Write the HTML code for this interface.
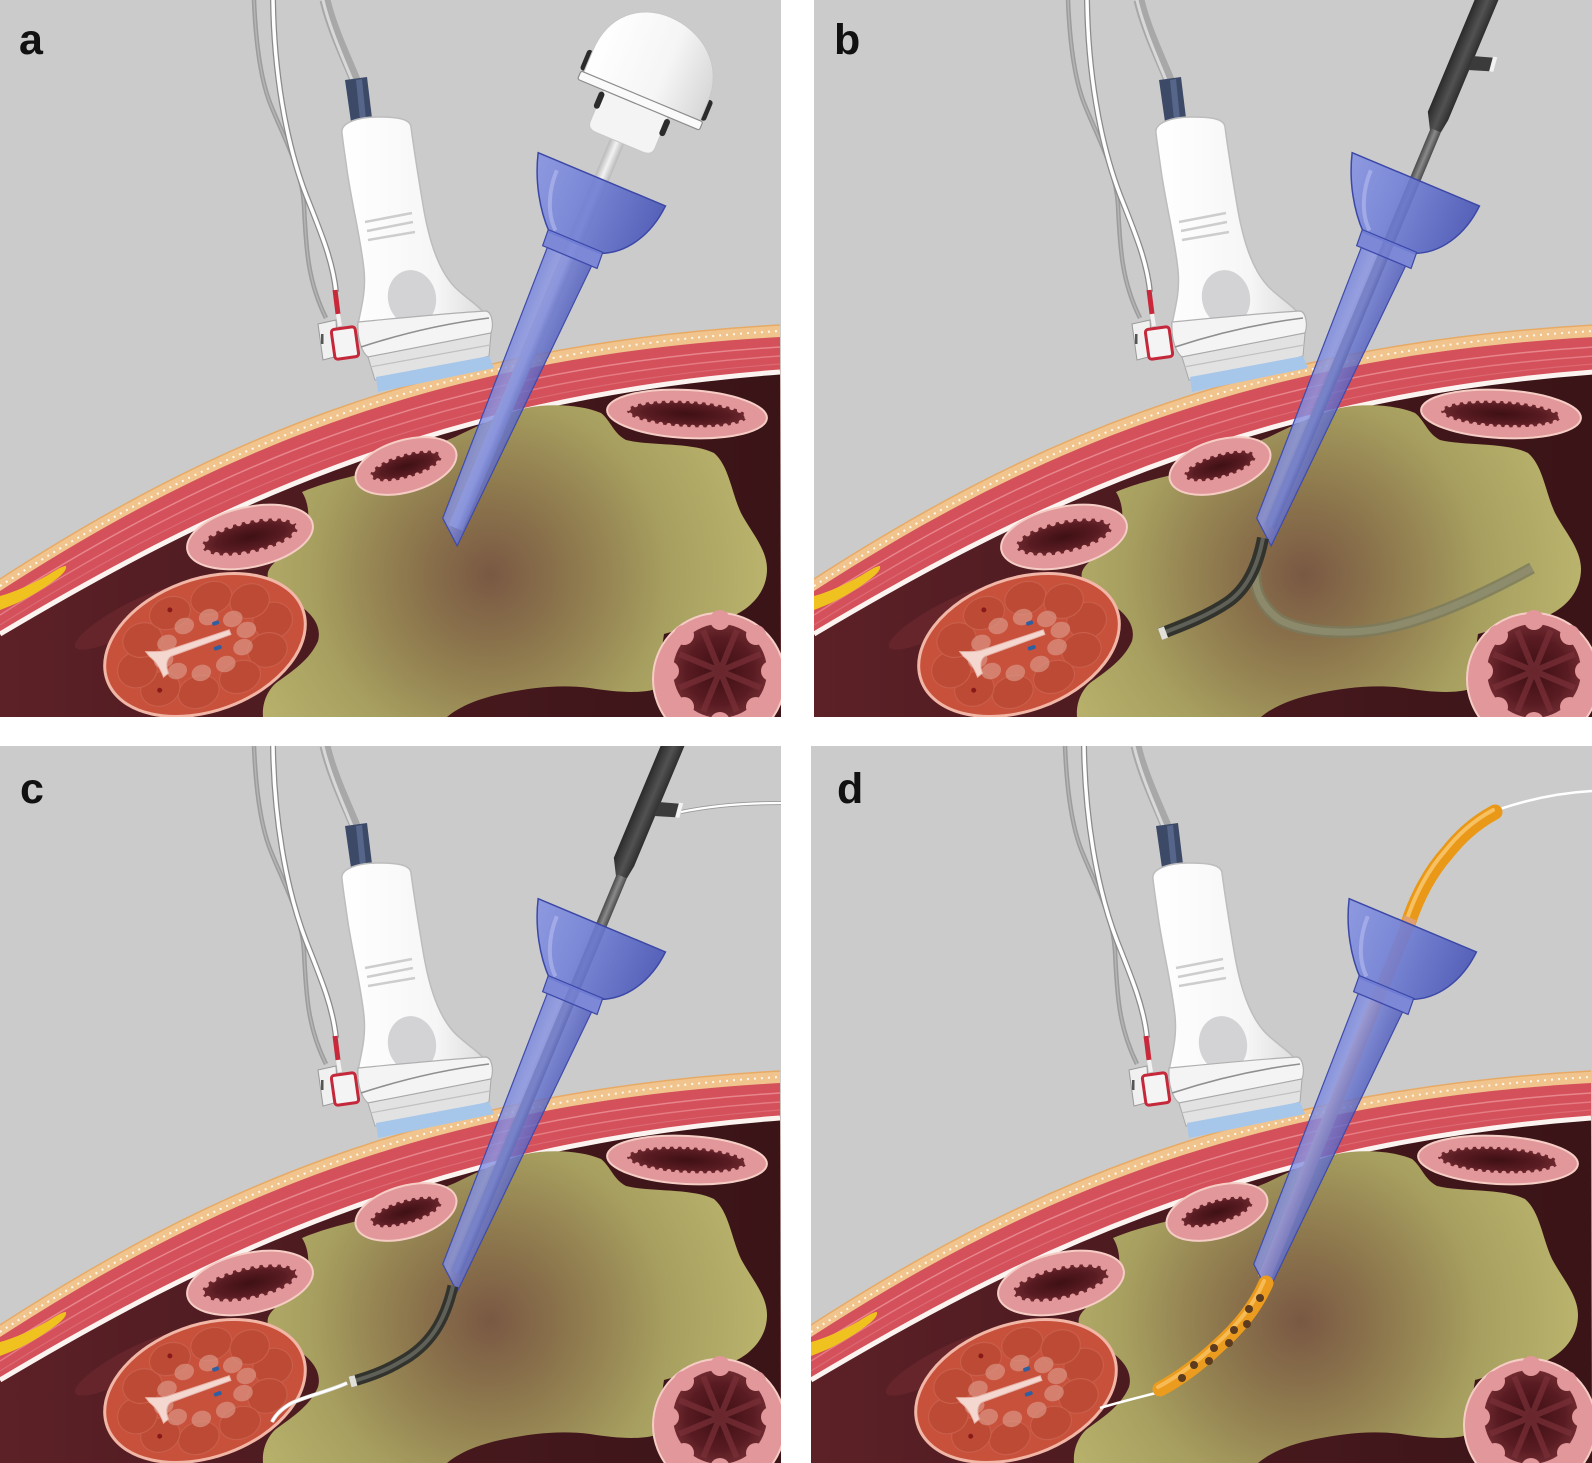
<!DOCTYPE html>
<html><head><meta charset="utf-8">
<style>
html,body{margin:0;padding:0;background:#fff;}
svg{display:block;}
text{font-family:"Liberation Sans",Arial,sans-serif;font-weight:bold;}
</style></head>
<body>
<svg xmlns="http://www.w3.org/2000/svg" xmlns:xlink="http://www.w3.org/1999/xlink" width="1592" height="1463" viewBox="0 0 1592 1463">
<defs>
 <clipPath id="pc"><rect x="0" y="0" width="781" height="717"/></clipPath>
 <linearGradient id="inter" gradientUnits="userSpaceOnUse" x1="0" y1="0" x2="780" y2="0">
  <stop offset="0" stop-color="#5c2127"/><stop offset="0.45" stop-color="#4a1a1f"/><stop offset="1" stop-color="#3a1417"/>
 </linearGradient>
 <radialGradient id="abs" gradientUnits="userSpaceOnUse" cx="490" cy="575" r="275">
  <stop offset="0" stop-color="#7a5843"/><stop offset="0.3" stop-color="#8d774d"/>
  <stop offset="0.65" stop-color="#a79f5f"/><stop offset="1" stop-color="#b9b36d"/>
 </radialGradient>
 <radialGradient id="lum">
  <stop offset="0" stop-color="#3e1014"/><stop offset="0.7" stop-color="#581b21"/><stop offset="1" stop-color="#6e2a30"/>
 </radialGradient>
 <linearGradient id="fun" x1="0" y1="0" x2="1" y2="0">
  <stop offset="0" stop-color="#8592e2"/><stop offset="0.4" stop-color="#7180d8"/><stop offset="1" stop-color="#4653b6"/>
 </linearGradient>
 <linearGradient id="shaft" x1="0" y1="0" x2="1" y2="0">
  <stop offset="0" stop-color="#7684dc"/><stop offset="0.3" stop-color="#8a96e4"/><stop offset="0.6" stop-color="#6875d0"/><stop offset="1" stop-color="#4f5cbd"/>
 </linearGradient>
 <linearGradient id="dome" x1="0" y1="0" x2="1" y2="0">
  <stop offset="0" stop-color="#ffffff"/><stop offset="0.6" stop-color="#f5f5f5"/><stop offset="1" stop-color="#d8d8d8"/>
 </linearGradient>
 <linearGradient id="hand" x1="0" y1="0" x2="1" y2="0">
  <stop offset="0" stop-color="#ffffff"/><stop offset="0.65" stop-color="#f6f6f6"/><stop offset="1" stop-color="#dcdcdc"/>
 </linearGradient>
 <linearGradient id="dk" x1="0" y1="0" x2="1" y2="0">
  <stop offset="0" stop-color="#2a2a2a"/><stop offset="0.55" stop-color="#525252"/><stop offset="1" stop-color="#2e2e2e"/>
 </linearGradient>
 <linearGradient id="rod" x1="0" y1="0" x2="1" y2="0">
  <stop offset="0" stop-color="#4a4a4a"/><stop offset="0.5" stop-color="#8a8a8a"/><stop offset="1" stop-color="#4a4a4a"/>
 </linearGradient>
 <linearGradient id="silver" x1="0" y1="0" x2="1" y2="0">
  <stop offset="0" stop-color="#b8b8b8"/><stop offset="0.5" stop-color="#f2f2f2"/><stop offset="1" stop-color="#b8b8b8"/>
 </linearGradient>

 <g id="scene">
  <rect width="781" height="717" fill="#cbcbcb"/>
  <path d="M0,579 C200,450 420,345 780,325 L781,717 L0,717Z" fill="#f0c48c"/>
  <path d="M0,579 C200,450 420,345 780,325" fill="none" stroke="#e7aa66" stroke-width="1.5"/>
  <path d="M0,586 C200,457 421,352 780,331" fill="none" stroke="#fff8ea" stroke-width="2" stroke-dasharray="2 5"/>
  <path d="M0,591 C200,462 422,357 780,337 L781,717 L0,717Z" fill="#d4505a"/>
  <path d="M0,603 C200,476 425,369 780,347" fill="none" stroke="#e8868d" stroke-width="1.5"/>
  <path d="M0,615 C200,488 427,380 780,356" fill="none" stroke="#e8868d" stroke-width="1.5" opacity=".8"/>
  <path d="M0,625 C200,499 428,390 780,364" fill="none" stroke="#e07a82" stroke-width="1.2" opacity=".6"/>
  <path d="M0,634 C200,515 430,398 780,372 L781,717 L0,717Z" fill="url(#inter)"/>
  <path d="M0,634 C200,515 430,398 780,372" fill="none" stroke="#fbf3ef" stroke-width="5"/>
  <path d="M0,596 C15,592 32,584 48,575 C56,570 62,566 66,566 C67,570 62,575 55,580 C42,590 25,600 10,606 L0,610 Z" fill="#efc21f"/>
  <ellipse cx="130" cy="618" rx="62" ry="14" transform="rotate(-28 130 618)" fill="#6a272d" opacity=".8"/>

  <path d="M302,492 C318,485 340,479 362,474 L455,437 C478,426 502,414 526,408 C552,403 582,405 601,413 C611,421 613,433 626,440 C650,446 692,442 714,453 C729,466 731,491 741,513 C751,532 767,549 767,569 C767,591 752,607 735,615 C715,623 688,627 664,634 L656,689 C640,694 615,692 590,688 C560,684 530,688 505,693 C480,698 460,706 447,717 L263,717 C262,705 266,692 276,683 C291,672 310,660 318,641 C322,626 312,613 296,603 C279,595 265,585 268,572 C272,560 292,551 302,541 C310,528 311,506 302,492 Z" fill="url(#abs)"/>

  <g transform="translate(250,537) rotate(-12)">
   <ellipse rx="64" ry="30" fill="#e2979a" stroke="#f5cdc5" stroke-width="2"/>
   <ellipse rx="49" ry="16" fill="url(#lum)"/>
   <ellipse rx="49" ry="16" fill="none" stroke="#e2979a" stroke-width="6" stroke-dasharray="0.1 9" stroke-linecap="round"/>
  </g>
  <g transform="translate(406,466) rotate(-16)">
   <ellipse rx="52" ry="26" fill="#e2979a" stroke="#f5cdc5" stroke-width="2"/>
   <ellipse rx="37" ry="12" fill="url(#lum)"/>
   <ellipse rx="37" ry="12" fill="none" stroke="#e2979a" stroke-width="5" stroke-dasharray="0.1 8" stroke-linecap="round"/>
  </g>
  <g transform="translate(687,414) rotate(3)">
   <ellipse rx="80" ry="24" fill="#e2979a" stroke="#f5cdc5" stroke-width="2"/>
   <ellipse rx="60" ry="13" fill="url(#lum)"/>
   <ellipse rx="60" ry="13" fill="none" stroke="#e2979a" stroke-width="5" stroke-dasharray="0.1 8" stroke-linecap="round"/>
  </g>
  <g transform="translate(719,679)">
   <circle r="66" fill="#e2979a" stroke="#f5cdc5" stroke-width="2"/>
   <circle cx="1" cy="-8" r="47" fill="url(#lum)"/>
   <g stroke="#7b3038" stroke-width="6" opacity=".7">
    <path d="M1,-8 L41.6,8.8 M1,-8 L17.8,32.6 M1,-8 L-15.8,32.6 M1,-8 L-39.6,8.8 M1,-8 L-39.6,-24.8 M1,-8 L-15.8,-48.6 M1,-8 L17.8,-48.6 M1,-8 L41.6,-24.8"/>
   </g>
   <g fill="#e2979a">
    <circle cx="52" cy="-8" r="10"/><circle cx="37" cy="28" r="10"/><circle cx="1" cy="43" r="10"/><circle cx="-35" cy="28" r="10"/>
    <circle cx="-50" cy="-8" r="10"/><circle cx="-35" cy="-44" r="10"/><circle cx="1" cy="-59" r="10"/><circle cx="37" cy="-44" r="10"/>
   </g>
  </g>

  <g transform="translate(205,645) rotate(-20)">
   <ellipse rx="104" ry="66" fill="#c8513c" stroke="#f1b6a6" stroke-width="3"/>
   <g fill="#bd4a34" stroke="#c95e4a" stroke-width="1.2">
    <ellipse cx="72" cy="0" rx="20" ry="18"/><ellipse cx="57" cy="26" rx="20" ry="17"/>
    <ellipse cx="22" cy="42" rx="21" ry="16"/><ellipse cx="-22" cy="42" rx="21" ry="16"/>
    <ellipse cx="-57" cy="26" rx="20" ry="17"/><ellipse cx="-72" cy="0" rx="20" ry="18"/>
    <ellipse cx="-57" cy="-26" rx="20" ry="17"/><ellipse cx="-22" cy="-42" rx="21" ry="16"/>
    <ellipse cx="22" cy="-42" rx="21" ry="16"/><ellipse cx="57" cy="-26" rx="20" ry="17"/>
   </g>
   <g fill="#dc9a8a" opacity=".65">
    <ellipse cx="44" cy="0" rx="10" ry="8"/><ellipse cx="35" cy="15" rx="10" ry="8"/><ellipse cx="13" cy="25" rx="10" ry="8"/>
    <ellipse cx="-13" cy="25" rx="10" ry="8"/><ellipse cx="-35" cy="15" rx="10" ry="8"/><ellipse cx="-44" cy="0" rx="10" ry="8"/>
    <ellipse cx="-35" cy="-15" rx="10" ry="8"/><ellipse cx="-13" cy="-25" rx="10" ry="8"/><ellipse cx="13" cy="-25" rx="10" ry="8"/>
    <ellipse cx="35" cy="-15" rx="10" ry="8"/>
   </g>
   <path d="M28,-6 L-38,-8 C-46,-9 -52,-12 -58,-14 L-56,-8 C-52,-2 -50,6 -50,16 L-44,14 C-44,4 -40,0 -36,-1 L28,-1 Z" fill="#f4d8d0" stroke="#e6b2a8" stroke-width="1"/>
   <rect x="14" y="-19" width="7" height="4" rx="1.5" fill="#2f5fa0"/>
   <rect x="7" y="5" width="8" height="4" rx="1.5" fill="#2f5fa0"/>
   <circle cx="-21" cy="-45" r="2.5" fill="#8a1a1a"/>
   <circle cx="-58" cy="27" r="2.5" fill="#8a1a1a"/>
  </g>

  <path d="M254,0 C256,50 262,85 272,108 C285,140 302,170 304,205 C306,250 308,282 326,318" fill="none" stroke="#9c9c9c" stroke-width="4.5"/>
  <path d="M254,0 C256,50 262,85 272,108 C285,140 302,170 304,205 C306,250 308,282 326,318" fill="none" stroke="#b4b4b4" stroke-width="1.5"/>
  <path d="M273,0 C274,70 285,140 306,195 C322,235 333,262 336,292" fill="none" stroke="#8a8a8a" stroke-width="6"/>
  <path d="M273,0 C274,70 285,140 306,195 C322,235 333,262 336,292" fill="none" stroke="#ffffff" stroke-width="3.5"/>
  <path d="M335,290 L338,314" stroke="#c8283a" stroke-width="5"/>
  <path d="M338,314 L340,326" stroke="#f2f2f2" stroke-width="4"/>
  <path d="M325,0 C332,30 348,62 357,85" fill="none" stroke="#a8a8a8" stroke-width="11"/>
  <path d="M323,0 C330,30 345,62 354,85" fill="none" stroke="#d8d8d8" stroke-width="3"/>
  <path d="M345,80 L367,77 L372,118 L351,122 Z" fill="#3c4a68"/>
  <path d="M356,80 L362,79 L366,119 L360,120 Z" fill="#56668a"/>
  <path d="M342,133 C340,122 360,117 377,117 C395,117 410,118 411,127 C414,150 418,175 423,205 C428,235 436,265 452,284 C462,296 478,304 487,316 L358,324 C362,305 366,290 364,270 C361,240 352,205 347,170 C345,155 343,143 342,133 Z" fill="url(#hand)" stroke="#bdbdbd" stroke-width="1.5"/>
  <path d="M365,222 L412,213 M367,231 L413,222 M368,240 L415,232" stroke="#cdcdcd" stroke-width="2.5"/>
  <ellipse cx="412" cy="298" rx="24" ry="28" transform="rotate(-12 412 298)" fill="#d3d3d6"/>
  <path d="M358,322 C400,318 450,313 486,311 C492,312 494,325 491,333 L368,357 C362,352 357,340 358,322 Z" fill="#f4f4f4" stroke="#b0b0b0" stroke-width="1.2"/>
  <path d="M361,347 Q425,326 489,318" fill="none" stroke="#8f8f8f" stroke-width="1.6"/>
  <path d="M368,357 L491,333 L489,356 C470,362 420,372 375,380 Z" fill="#e2e2e2" stroke="#a8a8a8" stroke-width="1"/>
  <path d="M370,367 L490,345" stroke="#c0c0c0" stroke-width="1.2"/>
  <path d="M376,377 L489,356 L494,368 L378,392 Z" fill="#a6c6ea"/>
  <path d="M318,324 L336,320 L338,356 L323,360 Z" fill="#f0f0f0" stroke="#9a9a9a" stroke-width="1"/>
  <rect x="321" y="334" width="2.5" height="10" fill="#555"/>
  <rect x="333" y="328" width="24" height="30" rx="3" transform="rotate(-8 345 343)" fill="#f4f4f4" stroke="#c4283a" stroke-width="3"/>
 </g>

 <g id="sheath">
  <path d="M-74,87 L64,87 C62,120 46,146 22,156 L-33,156 C-50,140 -66,115 -74,87 Z" fill="url(#fun)" fill-opacity=".88" stroke="#3c48a6" stroke-width="1.5"/>
  <path d="M-50,96 C-50,118 -42,140 -28,152" fill="none" stroke="#b5bdf0" stroke-width="4" opacity=".6"/>
  <path d="M-35,154 L24,154 L25,171 L-34,171 Z" fill="#7482d8" fill-opacity=".9" stroke="#3c48a6" stroke-width="1.2"/>
  <path d="M-29,171 L19,171 L3,481 L-21,461 Z" fill="url(#shaft)" fill-opacity=".82" stroke="#3f4bab" stroke-width="1.2"/>
 </g>

 <g id="dilator">
  <path d="M-20,-320 L2,-320 L2,20 L0,34 L-11,36 L-20,20 Z" fill="url(#dk)"/>
  <rect x="-11" y="34" width="11" height="430" fill="url(#rod)"/>
  <path d="M1,-49 L19,-55 L21,-41 L1,-34 Z" fill="#3b3b3b"/>
  <path d="M19,-56 L23,-57 L25,-42 L21,-41 Z" fill="#f2f2f2"/>
 </g>
</defs>

<g clip-path="url(#pc)">
 <use href="#scene" xlink:href="#scene"/>
 <g transform="translate(640,101) rotate(22.7)">
  <rect x="-13" y="40" width="15" height="425" fill="url(#silver)"/>
  <use href="#sheath" xlink:href="#sheath"/>
  <rect x="-68" y="-28" width="6" height="22" rx="3" fill="#2b2b2b"/>
  <rect x="62" y="-28" width="6" height="22" rx="3" fill="#2b2b2b"/>
  <path d="M-38,4 L32,4 L32,38 C32,44 28,46 22,46 L-28,46 C-34,46 -38,44 -38,38 Z" fill="#f4f4f4" stroke="#c8c8c8" stroke-width="1"/>
  <rect x="-41" y="6" width="6" height="18" rx="3" fill="#2b2b2b"/>
  <rect x="30" y="6" width="6" height="18" rx="3" fill="#2b2b2b"/>
  <path d="M-63,-4 L-63,-28 C-63,-68 -36,-89 -5,-89 C30,-89 63,-66 63,-26 L63,-4 Z" fill="url(#dome)" stroke="#c8c8c8" stroke-width="1"/>
  <rect x="-66" y="-5" width="132" height="9" rx="2" fill="#fafafa" stroke="#8c8c8c" stroke-width="1.2"/>
 </g>
 <text x="19" y="54" font-size="43" fill="#111">a</text>
</g>

<g transform="translate(814,0)" clip-path="url(#pc)">
 <use href="#scene" xlink:href="#scene"/>
 <path d="M443,557 C437,585 445,605 466,620 C490,633 530,634 560,630 C600,624 650,605 718,568" fill="none" stroke="#7b7a5d" stroke-width="12" opacity=".8"/>
 <path d="M443,557 C437,585 445,605 466,620 C490,633 530,634 560,630 C600,624 650,605 718,568" fill="none" stroke="#908e70" stroke-width="7" opacity=".8"/>
 <g transform="translate(640,101) rotate(22.7)">
  <use href="#dilator" xlink:href="#dilator"/>
  <use href="#sheath" xlink:href="#sheath"/>
 </g>
 <path d="M449,538 C444,565 434,588 414,602 C395,615 370,625 346,634" fill="none" stroke="#33332e" stroke-width="12"/>
 <path d="M449,538 C444,565 434,588 414,602 C395,615 370,625 346,634" fill="none" stroke="#5f6058" stroke-width="4"/>
 <path d="M352,632 L346,634.2" stroke="#e0e0d8" stroke-width="12"/>
 <text x="20" y="54" font-size="43" fill="#111">b</text>
</g>

<g transform="translate(0,746)" clip-path="url(#pc)">
 <use href="#scene" xlink:href="#scene"/>
 <path d="M681,66 C710,60 745,57 781,57" fill="none" stroke="#9a9a9a" stroke-width="4"/>
 <path d="M681,66 C710,60 745,57 781,57" fill="none" stroke="#ffffff" stroke-width="2.2"/>
 <g transform="translate(640,101) rotate(22.7)">
  <use href="#dilator" xlink:href="#dilator"/>
  <use href="#sheath" xlink:href="#sheath"/>
 </g>
 <path d="M347,637 C330,645 300,652 290,658 C280,664 275,670 272,676" fill="none" stroke="#dcdcdc" stroke-width="4"/>
 <path d="M347,637 C330,645 300,652 290,658 C280,664 275,670 272,676" fill="none" stroke="#ffffff" stroke-width="2.5"/>
 <path d="M453,540 C445,575 430,600 400,616 C385,625 365,632 350,636" fill="none" stroke="#33332e" stroke-width="11"/>
 <path d="M453,540 C445,575 430,600 400,616 C385,625 365,632 350,636" fill="none" stroke="#5f6058" stroke-width="4"/>
 <path d="M356,634.4 L350,636" stroke="#e0e0d8" stroke-width="11"/>
 <text x="20" y="57" font-size="43" fill="#111">c</text>
</g>

<g transform="translate(811,746)" clip-path="url(#pc)">
 <use href="#scene" xlink:href="#scene"/>
 <path d="M686,64 C715,54 745,47 781,45" fill="none" stroke="#ffffff" stroke-width="2.5"/>
 <path d="M597,178 C606,150 620,125 636,107 C648,92 662,78 684,66" fill="none" stroke="#e99818" stroke-width="15" stroke-linecap="round"/>
 <path d="M595,176 C604,148 618,123 634,105 C646,90 660,76 682,64" fill="none" stroke="#f7c060" stroke-width="4" stroke-linecap="round"/>
 <g transform="translate(640,101) rotate(22.7)">
  <path d="M-10,81 L-6,470" stroke="#e0a070" stroke-width="13"/>
  <use href="#sheath" xlink:href="#sheath"/>
 </g>
 <path d="M349,646 C325,652 305,657 289,662" fill="none" stroke="#ffffff" stroke-width="2.5"/>
 <path d="M455,537 C446,558 430,580 406,601 C390,616 370,632 349,643" fill="none" stroke="#eb9c1e" stroke-width="15" stroke-linecap="round"/>
 <path d="M453,535 C444,556 428,578 404,599 C388,614 368,630 347,641" fill="none" stroke="#f6bb55" stroke-width="4" stroke-linecap="round"/>
 <g fill="#5c3b1e">
  <circle cx="449" cy="552" r="4"/><circle cx="438" cy="563" r="4"/><circle cx="436" cy="578" r="4"/>
  <circle cx="423" cy="584" r="4"/><circle cx="418" cy="597" r="4"/><circle cx="403" cy="602" r="4"/>
  <circle cx="398" cy="615" r="4"/><circle cx="383" cy="619" r="4"/><circle cx="371" cy="632" r="4"/>
 </g>
 <text x="26" y="57" font-size="43" fill="#111">d</text>
</g>
</svg>
</body></html>
